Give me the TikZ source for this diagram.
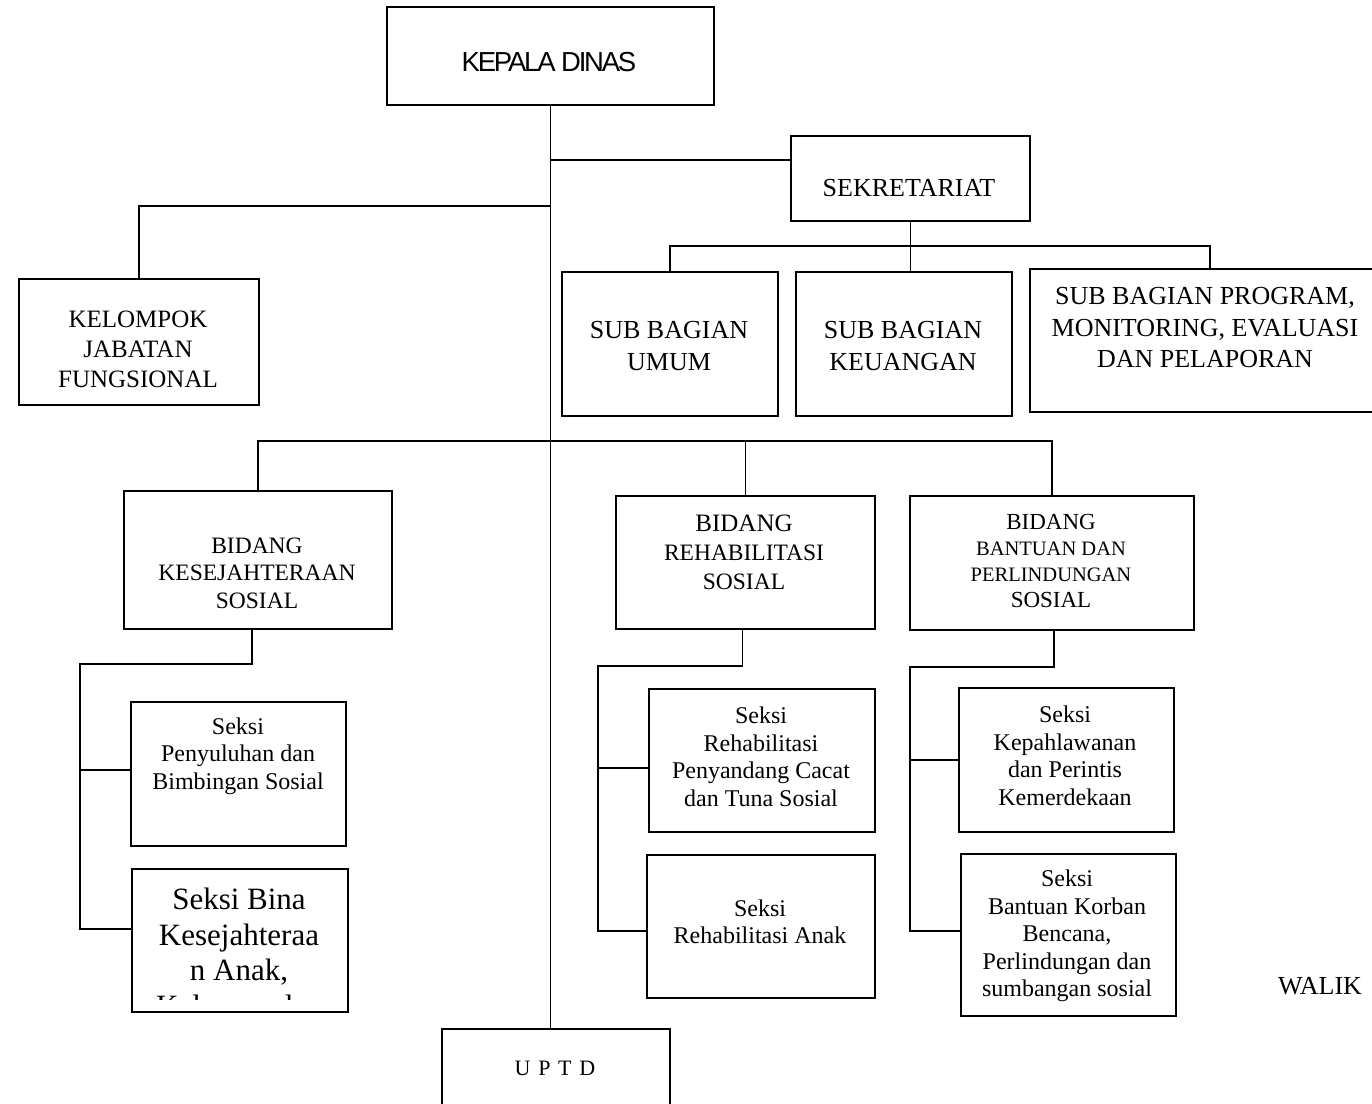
\documentclass[tikz,border=0pt]{standalone}
\usepackage{fontspec}
\setmainfont{Liberation Serif}
\newfontfamily\headfont[LetterSpace=-8]{Liberation Sans}
\newfontfamily\spacedfont[LetterSpace=10]{Liberation Serif}
\usetikzlibrary{calc}

\begin{document}
\begin{tikzpicture}
[   x=1pt,y=-1pt,
    box/.style={draw,line width=1.8pt,above right,inner sep=0pt},
    txt/.style={align=center,inner sep=0pt,font=\fontsize{24}{27.5}\selectfont},
    big/.style={align=center,inner sep=0pt,font=\fontsize{26}{31.5}\selectfont},
    link/.style={line width=1.8pt}
]
    \useasboundingbox (0,0) rectangle (1372,1103);
    \clip (0,0) rectangle (1372,1103);
    % top
    \node[box,minimum width=327,minimum height=98] (kd) at (386,106) {};
    \node[inner sep=0pt,font=\headfont\fontsize{27.5}{30}\selectfont] (kd-t) at (549,62) {KEPALA DINAS};
    \node[box,minimum width=239,minimum height=85] (sekr) at (790,222) {};
    \node[big] (sekr-t) at (909,188) {SEKRETARIAT};
    \node[box,minimum width=216,minimum height=144] (umum) at (561,417) {};
    \node[big] (umum-t) at (669,346) {SUB BAGIAN\\UMUM};
    \node[box,minimum width=216,minimum height=144] (keu) at (795,417) {};
    \node[big] (keu-t) at (903,346) {SUB BAGIAN\\KEUANGAN};
    \node[box,minimum width=360,minimum height=143] (prog) at (1029,413) {};
    \node[big] (prog-t) at (1205,328) {SUB BAGIAN PROGRAM,\\MONITORING, EVALUASI\\DAN PELAPORAN};
    \node[box,minimum width=240,minimum height=126] (kjf) at (18,406) {};
    \node[txt,font=\fontsize{25}{30}\selectfont] (kjf-t) at (138,349) {KELOMPOK\\JABATAN\\FUNGSIONAL};
    % bidang
    \node[box,minimum width=268,minimum height=138] (bks) at (123,630) {};
    \node[txt,font=\fontsize{23.5}{27.5}\selectfont] (bks-t) at (257,573) {BIDANG\\KESEJAHTERAAN\\SOSIAL};
    \node[box,minimum width=259,minimum height=133] (brs) at (615,630) {};
    \node[txt,font=\fontsize{23.5}{29}\selectfont] (brs-t) at (744,552) {{\fontsize{25}{29}\selectfont BIDANG}\\REHABILITASI\\SOSIAL};
    \node[box,minimum width=284,minimum height=134] (bbp) at (909,631) {};
    \node[txt,font=\fontsize{23}{26}\selectfont] (bbp-t) at (1051,561) {BIDANG\\{\fontsize{20.5}{26}\selectfont BANTUAN DAN}\\{\fontsize{20.5}{26}\selectfont PERLINDUNGAN}\\SOSIAL};
    % seksi
    \node[box,minimum width=215,minimum height=144] (spb) at (130,847) {};
    \node[txt] (spb-t) at (238,756) {Seksi\\Penyuluhan dan\\Bimbingan Sosial};
    \node[box,minimum width=216,minimum height=143] (sbk) at (131,1013) {};
    \begin{scope}
        \clip (sbk.north west) rectangle ([yshift=14pt]sbk.south east);
        \node[txt,anchor=north,font=\fontsize{31}{35.5}\selectfont] (sbk-t) at (239,888) {Seksi Bina\\Kesejahteraa\\n Anak,\\Keluarga dan};
    \end{scope}
    \node[box,minimum width=226,minimum height=143] (srp) at (648,833) {};
    \node[txt] (srp-t) at (761,757) {Seksi\\Rehabilitasi\\Penyandang Cacat\\dan Tuna Sosial};
    \node[box,minimum width=228,minimum height=143] (sra) at (646,999) {};
    \node[txt] (sra-t) at (760,922) {Seksi\\Rehabilitasi Anak};
    \node[box,minimum width=215,minimum height=144] (skp) at (958,833) {};
    \node[txt] (skp-t) at (1065,756) {Seksi\\Kepahlawanan\\dan Perintis\\Kemerdekaan};
    \node[box,minimum width=215,minimum height=162] (sbkb) at (960,1017) {};
    \node[txt] (sbkb-t) at (1067,936) {Seksi\\Bantuan Korban\\Bencana,\\Perlindungan dan\\sumbangan sosial};
    \node[box,minimum width=228,minimum height=100] (uptd) at (441,1130) {};
    \node[inner sep=0pt,font=\spacedfont\fontsize{22}{26}\selectfont] (uptd-t) at (555,1068) {U P T D};
    \node[anchor=base west,inner sep=0pt,font=\fontsize{26}{30}\selectfont] (walik) at (1278,994) {WALIK};

    % lines
    \draw[link] (kd.south) -- (kd.south |- uptd.north);
    \coordinate (s1) at ([yshift=-25pt]sekr.north west);
    \draw[link] (s1) -- (kd.south |- s1);
    \coordinate (sbus) at ([yshift=-24pt]sekr.south);
    \draw[link] (sekr.south) -- (keu.north -| sekr.south);
    \draw[link] (umum.north) |- (sbus) -| (prog.north);
    \coordinate (fbus) at ([yshift=-100pt]kd.south);
    \draw[link] (kjf.north) |- (fbus);
    \coordinate (bbus) at ([yshift=-335pt]kd.south);
    \draw[link] (bks.north) |- (bbp.north |- bbus) -- (bbp.north);
    \draw[link] (brs.north) -- (brs.north |- bbus);
    \draw[link] ([xshift=-6pt]bks.south) -- ++(0,34) -| ([xshift=-51pt,yshift=12pt]sbk.west) -- ([yshift=12pt]sbk.west);
    \draw[link] ([xshift=-50pt,yshift=4pt]spb.west) -- ([yshift=4pt]spb.west);
    \draw[link] ([xshift=-3pt]brs.south) -- ++(0,36) -| ([xshift=-48pt,yshift=-4.5pt]sra.west) -- ([yshift=-4.5pt]sra.west);
    \draw[link] ([xshift=-50pt,yshift=-7.5pt]srp.west) -- ([yshift=-7.5pt]srp.west);
    \draw[link] ([xshift=2pt]bbp.south) -- ++(0,36) -| ([xshift=-50pt,yshift=4pt]sbkb.west) -- ([yshift=4pt]sbkb.west);
    \draw[link] ([xshift=-48pt]skp.west) -- (skp.west);
\end{tikzpicture}
\end{document}
